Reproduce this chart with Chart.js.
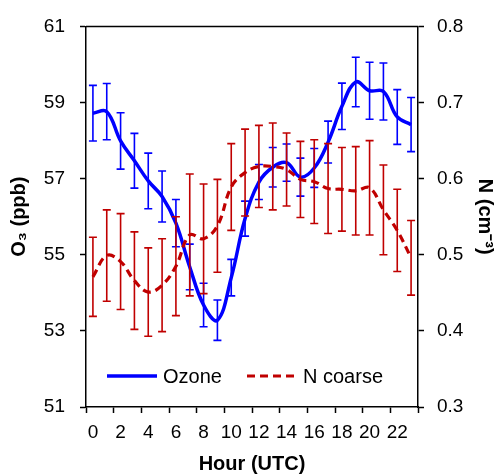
<!DOCTYPE html>
<html><head><meta charset="utf-8">
<script src="https://cdn.jsdelivr.net/npm/chart.js@4/dist/chart.umd.min.js"></script>
<style>html,body{margin:0;padding:0;background:#fff}#wrap{width:497px;height:474px}</style>
</head><body><div id="wrap"><canvas id="c" width="497" height="474"></canvas></div>
<script>
const hours = ['0','1','2','3','4','5','6','7','8','9','10','11','12','13','14','15','16','17','18','19','20','21','22','23'];
const ozone = [58.72,58.76,57.99,57.47,56.94,56.53,55.83,54.68,53.68,53.28,54.40,55.95,56.91,57.30,57.42,57.04,57.28,57.96,58.90,59.54,59.31,59.29,58.62,58.42];
const ozoneErr = [0.73,0.74,0.74,0.72,0.73,0.67,0.62,0.60,0.57,0.53,0.48,0.46,0.46,0.52,0.49,0.50,0.51,0.55,0.61,0.65,0.75,0.75,0.72,0.71];
const nCoarse = [0.471,0.499,0.491,0.466,0.451,0.460,0.485,0.526,0.521,0.538,0.589,0.608,0.616,0.616,0.612,0.599,0.596,0.587,0.586,0.584,0.588,0.559,0.532,0.496];
const nCoarseErr = [0.052,0.060,0.063,0.064,0.058,0.061,0.065,0.080,0.072,0.061,0.057,0.057,0.054,0.057,0.048,0.050,0.055,0.059,0.055,0.058,0.062,0.059,0.054,0.049];
const seriesNames = ['Ozone','N coarse'];
const axisTitles = {x:'Hour (UTC)', y:'O\u2083 (ppb)', y1:'N (cm\u207B\u00B3)'};

const FONT = '"Liberation Sans", Arial, sans-serif';
Chart.defaults.font.family = FONT;
Chart.defaults.font.size = 19;
Chart.defaults.color = '#000';

const BLUE = '#0000FF', RED = '#C00000';

const errorBars = {
  id: 'errorBars',
  beforeDatasetDraw(chart, args) {
    const ds = chart.data.datasets[args.index];
    if (!ds.errors) return;
    const ctx = chart.ctx;
    const xs = chart.scales.x, ys = chart.scales[ds.yAxisID];
    ctx.save();
    ctx.strokeStyle = ds.errorColor;
    ctx.lineWidth = 1.6;
    ds.data.forEach((v, i) => {
      const x = xs.getPixelForValue(i);
      const yt = ys.getPixelForValue(v + ds.errors[i]);
      const yb = ys.getPixelForValue(v - ds.errors[i]);
      ctx.beginPath();
      ctx.moveTo(x, yt); ctx.lineTo(x, yb);
      ctx.moveTo(x - 4, yt); ctx.lineTo(x + 4, yt);
      ctx.moveTo(x - 4, yb); ctx.lineTo(x + 4, yb);
      ctx.stroke();
    });
    ctx.restore();
  }
};

const frameAndLegend = {
  id: 'frameAndLegend',
  afterDraw(chart) {
    const {ctx, chartArea: a} = chart;
    ctx.save();
    ctx.strokeStyle = '#000';
    ctx.lineWidth = 1.5;
    ctx.beginPath();
    ctx.moveTo(a.left, a.top); ctx.lineTo(a.right, a.top);
    ctx.stroke();
    const y = a.bottom - 31;
    const pos = [a.left + 21, a.left + 161];
    chart.data.datasets.forEach((ds, i) => {
      const x0 = pos[i];
      ctx.strokeStyle = ds.borderColor;
      ctx.lineWidth = ds.borderWidth;
      ctx.setLineDash(ds.borderDash || []);
      ctx.beginPath();
      ctx.moveTo(x0, y); ctx.lineTo(x0 + 50, y);
      ctx.stroke();
      ctx.setLineDash([]);
      ctx.fillStyle = '#000';
      ctx.font = '20px ' + FONT;
      ctx.textBaseline = 'middle';
      ctx.textAlign = 'left';
      ctx.fillText(ds.label, x0 + 56, y + 1);
    });
    ctx.restore();
  }
};

const tickCol = c => (c.index === undefined || c.index % 2 === 0) ? '#000' : 'rgba(0,0,0,0)';
const titleFont = {weight: 'bold', size: 20, lineHeight: 1};

new Chart(document.getElementById('c'), {
  type: 'line',
  data: {
    labels: hours,
    datasets: [
      {label: seriesNames[0], data: ozone, errors: ozoneErr, errorColor: BLUE, yAxisID: 'y',
       borderColor: BLUE, borderWidth: 3.5, pointRadius: 0, tension: 0.4, fill: false, order: 1},
      {label: seriesNames[1], data: nCoarse, errors: nCoarseErr, errorColor: RED, yAxisID: 'y1',
       borderColor: RED, borderWidth: 3.2, borderDash: [8, 5], pointRadius: 0, tension: 0.4, fill: false, order: 0}
    ]
  },
  options: {
    responsive: false,
    animation: false,
    devicePixelRatio: 1,
    layout: {padding: {top: 24, left: 0, right: 0, bottom: 0}},
    plugins: {legend: {display: false}, tooltip: {enabled: false}},
    scales: {
      x: {
        type: 'category', offset: true,
        grid: {offset: true, drawOnChartArea: false, tickLength: 6, tickWidth: 1.5, tickColor: tickCol, color: tickCol},
        border: {color: '#000', width: 1.5},
        ticks: {autoSkip: false, maxRotation: 0, padding: 8,
          callback: function(v, i) { return i % 2 === 0 ? this.getLabelForValue(v) : ''; }},
        title: {display: true, text: axisTitles.x, font: titleFont, padding: {top: 0, bottom: 0}},
        afterFit(s) { s.height = 67; }
      },
      y: {
        position: 'left', min: 51, max: 61,
        grid: {drawOnChartArea: false, tickLength: 6, tickWidth: 1.5, tickColor: '#000'},
        border: {color: '#000', width: 1.5},
        ticks: {stepSize: 2, padding: 15},
        title: {display: true, text: axisTitles.y, font: titleFont, padding: {top: 9, bottom: 0}},
        afterFit(s) { s.width = 86; }
      },
      y1: {
        position: 'right', min: 0.3, max: 0.8,
        grid: {drawOnChartArea: false, tickLength: 6, tickWidth: 1.5, tickColor: '#000'},
        border: {color: '#000', width: 1.5},
        ticks: {stepSize: 0.1, padding: 13, callback: v => v.toFixed(1)},
        title: {display: true, text: axisTitles.y1, font: titleFont, padding: {top: 2, bottom: 0}},
        afterFit(s) { s.width = 79; }
      }
    }
  },
  plugins: [errorBars, frameAndLegend]
});
</script></body></html>
